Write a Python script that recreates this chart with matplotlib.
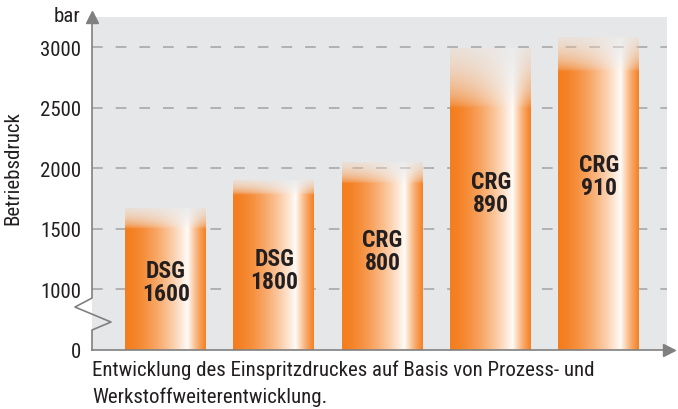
import numpy as np
import matplotlib
matplotlib.use("Agg")
import matplotlib.pyplot as plt

plt.rcParams['font.family'] = ['Roboto Condensed', 'DejaVu Sans']

# data
labels = ["DSG\n1600", "DSG\n1800", "CRG\n800", "CRG\n890", "CRG\n910"]
bar_top = [1680, 1910, 2060, 3000, 3090]      # top of faded bar
solid_top = [1500, 1780, 1875, 2500, 2800]    # where the fade starts
yticks = [0, 1000, 1500, 2000, 2500, 3000]
ylabel = "Betriebsdruck"
unit = "bar"
caption = ["Entwicklung des Einspritzdruckes auf Basis von Prozess- und",
           "Werkstoffweiterentwicklung."]

# layout (positions only)
label_y = [1060, 1165, 1320, 1795, 1935]
bar_w = 0.757

orange = np.array([0.957, 0.494, 0.122])
white = np.array([1.0, 1.0, 1.0])
grey_bg = "#e6e7e8"
axis_col = "#808080"
txt_col = "#231f20"


def fwd(v):
    v = np.asarray(v, dtype=float)
    return np.where(v >= 1000, v - 500, v / 2)


def inv(p):
    p = np.asarray(p, dtype=float)
    return np.where(p >= 500, p + 500, p * 2)


W, H = 678, 410
fig = plt.figure(figsize=(W / 100, H / 100), dpi=100)
ax = fig.add_axes([92 / W, (H - 351) / H, 575 / W, 333 / H])
ax.set_facecolor(grey_bg)
ax.set_yscale('function', functions=(fwd, inv))
ax.set_xlim(-0.684, 4.628)
ax.set_ylim(0, 3252)

for s in ax.spines.values():
    s.set_visible(False)

ax.set_xticks([])
ax.set_yticks(yticks)
ax.set_yticklabels([str(t) for t in yticks], fontsize=15, color=txt_col)
ax.tick_params(axis='y', length=0, pad=8)
ax.yaxis.set_minor_locator(matplotlib.ticker.NullLocator())

for t in yticks[1:]:
    ax.axhline(t, color="#a3a3a3", lw=1.1, ls=(0, (7, 8.5)), zorder=1)

# gradient bars
nx, ny = 160, 400
tx = np.linspace(0, 1, nx)
wpos = 0.76
whiten = np.where(tx < wpos, (tx / wpos) ** 1.6, ((1 - tx) / (1 - wpos)) ** 1.3)
whiten = np.clip(whiten, 0, 1) * 0.97
for i, (top, solid) in enumerate(zip(bar_top, solid_top)):
    v = (np.arange(ny) + 0.5) / ny * top
    s = np.clip((v - solid) / (top - solid), 0, 1) ** 0.7
    img = np.zeros((ny, nx, 4))
    base = orange[None, :] * (1 - whiten[:, None]) + white[None, :] * whiten[:, None]
    mixw = 0.6 * s
    img[:, :, :3] = base[None, :, :] * (1 - mixw[:, None, None]) + white * mixw[:, None, None]
    img[:, :, 3] = (1 - 0.8 * s)[:, None]
    ax.imshow(img, origin='lower', extent=[i - bar_w / 2, i + bar_w / 2, 0, top],
              interpolation='bilinear', zorder=2, aspect='auto')
    ax.text(i, label_y[i], labels[i], ha='center', va='center', fontsize=17,
            fontweight='bold', color=txt_col, linespacing=1.0, zorder=3)

ax.set_aspect('auto')
ax.set_xlim(-0.684, 4.628)
ax.set_ylim(0, 3252)

# axes with break and arrows
zx = [0, 0, 0.033, -0.0296, 0, 0]
zy = [0, 0.060, 0.084, 0.129, 0.156, 1.0]
ax.plot(zx, zy, transform=ax.transAxes, color=axis_col, lw=1.2, clip_on=False, zorder=5)
ax.plot([0], [1.0], marker='^', ms=8, color=axis_col, transform=ax.transAxes,
        clip_on=False, zorder=5)
ax.plot([0, 1.0], [0, 0], transform=ax.transAxes, color=axis_col, lw=1.2,
        clip_on=False, zorder=5)
ax.plot([1.003], [0], marker='>', ms=8, color=axis_col, transform=ax.transAxes,
        clip_on=False, zorder=5)

fig.text(80 / W, 1 - 17 / H, unit, ha='right', va='center', fontsize=15, color=txt_col)
fig.text(13 / W, 1 - 168 / H, ylabel, rotation=90, ha='center', va='center',
         fontsize=15, color=txt_col)
fig.text(92 / W, 1 - 370 / H, caption[0], ha='left', va='center', fontsize=15, color=txt_col)
fig.text(92 / W, 1 - 397 / H, caption[1], ha='left', va='center', fontsize=15, color=txt_col)

fig.savefig("out.png", dpi=100)
